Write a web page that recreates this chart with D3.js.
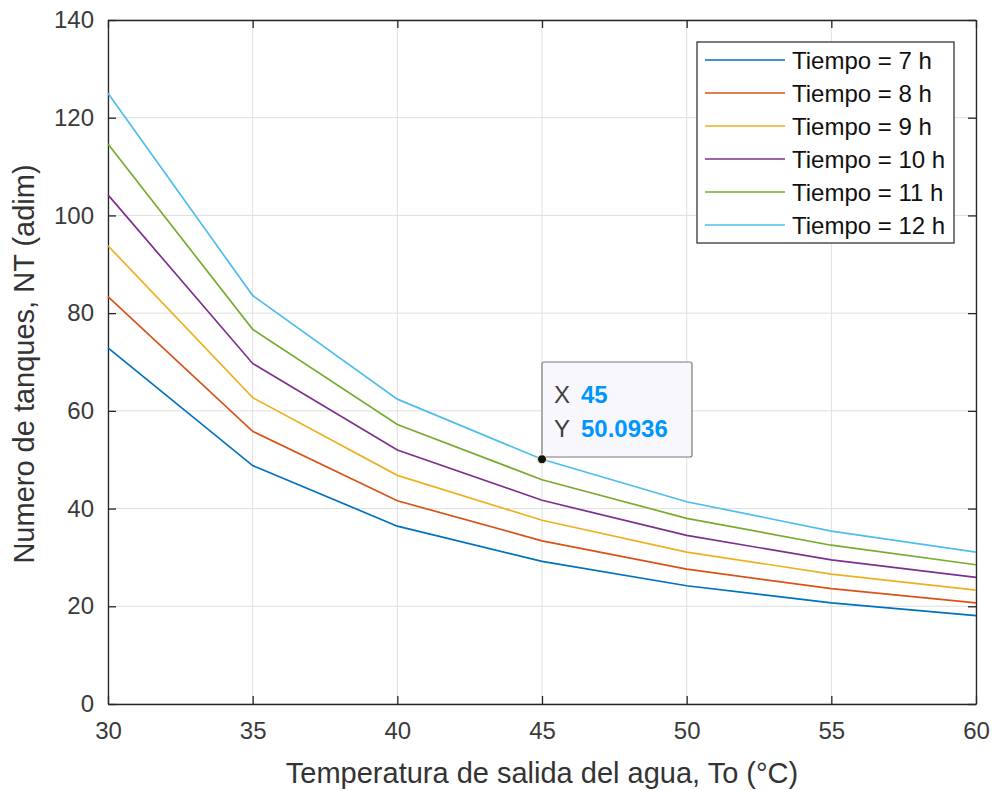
<!DOCTYPE html>
<html>
<head>
<meta charset="utf-8">
<script src="https://cdn.jsdelivr.net/npm/d3@7"></script>
<style>
  body { margin: 0; background: #fff; }
  text { font-family: "Liberation Sans", Arial, Helvetica, sans-serif; }
</style>
</head>
<body>
<svg></svg>
<script>
// datos
let temperaturas = [30, 35, 40, 45, 50, 55, 60];
let tiempos = ["Tiempo = 7 h", "Tiempo = 8 h", "Tiempo = 9 h", "Tiempo = 10 h", "Tiempo = 11 h", "Tiempo = 12 h"];
let nt7h  = [72.9, 48.8, 36.4, 29.2, 24.2, 20.7, 18.1];
let nt8h  = [83.4, 55.8, 41.6, 33.4, 27.6, 23.6, 20.7];
let nt9h  = [93.8, 62.7, 46.8, 37.6, 31.1, 26.6, 23.3];
let nt10h = [104.2, 69.7, 52.0, 41.7, 34.5, 29.5, 25.9];
let nt11h = [114.6, 76.7, 57.2, 45.9, 38.0, 32.5, 28.5];
let nt12h = [125.0, 83.6, 62.4, 50.0936, 41.4, 35.4, 31.1];
let xTicks = [30, 35, 40, 45, 50, 55, 60];
let yTicks = [0, 20, 40, 60, 80, 100, 120, 140];
let colores = ["#0072BD", "#D95319", "#EDB120", "#7E2F8E", "#77AC30", "#4DBEEE"];
let series = [nt7h, nt8h, nt9h, nt10h, nt11h, nt12h];

let svgWidth = 995;
let svgHeight = 791;
let margin = {left: 108, top: 20, right: 19, bottom: 87};

let svg = d3.select("svg")
  .attr("width", svgWidth)
  .attr("height", svgHeight);

let x = d3.scaleLinear().domain([30, 60]).range([margin.left, svgWidth - margin.right]);
let y = d3.scaleLinear().domain([0, 140]).range([svgHeight - margin.bottom, margin.top]);

// grid
svg.append("g").selectAll("line").data(xTicks).enter().append("line")
  .attr("x1", d => x(d)).attr("x2", d => x(d))
  .attr("y1", y(0)).attr("y2", y(140))
  .attr("stroke", "#dfdfdf").attr("stroke-width", 1);
svg.append("g").selectAll("line").data(yTicks).enter().append("line")
  .attr("x1", x(30)).attr("x2", x(60))
  .attr("y1", d => y(d)).attr("y2", d => y(d))
  .attr("stroke", "#dfdfdf").attr("stroke-width", 1);

// ejes (ticks hacia dentro, estilo matlab)
let ejeX = svg.append("g").attr("transform", "translate(0," + y(0) + ")")
  .call(d3.axisBottom(x).tickValues(xTicks).tickSizeInner(-8).tickSizeOuter(0).tickPadding(18));
let ejeXtop = svg.append("g").attr("transform", "translate(0," + y(140) + ")")
  .call(d3.axisTop(x).tickValues(xTicks).tickSizeInner(-8).tickSizeOuter(0).tickFormat(""));
let ejeY = svg.append("g").attr("transform", "translate(" + x(30) + ",0)")
  .call(d3.axisLeft(y).tickValues(yTicks).tickSizeInner(-8).tickSizeOuter(0).tickPadding(14));
let ejeYright = svg.append("g").attr("transform", "translate(" + x(60) + ",0)")
  .call(d3.axisRight(y).tickValues(yTicks).tickSizeInner(-8).tickSizeOuter(0).tickFormat(""));

[ejeX, ejeXtop, ejeY, ejeYright].forEach(function(g) {
  g.select(".domain").attr("stroke", "#262626").attr("stroke-width", 1.3);
  g.selectAll(".tick line").attr("stroke", "#262626").attr("stroke-width", 1.3);
  g.selectAll("text").attr("font-size", 24).attr("fill", "#3a3a3a")
    .attr("font-family", "'Liberation Sans', Arial, sans-serif");
});

// lineas
let linea = d3.line()
  .x((d, i) => x(temperaturas[i]))
  .y(d => y(d));

svg.append("g").selectAll("path").data(series).enter().append("path")
  .attr("d", d => linea(d))
  .attr("fill", "none")
  .attr("stroke", (d, i) => colores[i])
  .attr("stroke-width", 1.7);

// etiquetas de ejes
svg.append("text")
  .attr("x", (x(30) + x(60)) / 2).attr("y", 783)
  .attr("text-anchor", "middle")
  .attr("font-size", 29).attr("fill", "#333")
  .text("Temperatura de salida del agua, To (°C)");

svg.append("text")
  .attr("transform", "translate(34," + 364 + ") rotate(-90)")
  .attr("text-anchor", "middle")
  .attr("font-size", 29).attr("fill", "#333")
  .text("Numero de tanques, NT (adim)");

// leyenda
let leyenda = svg.append("g").attr("transform", "translate(697,42)");
leyenda.append("rect")
  .attr("width", 257).attr("height", 201)
  .attr("fill", "#fff").attr("stroke", "#262626").attr("stroke-width", 1.2);
let filas = leyenda.selectAll("g.fila").data(tiempos).enter().append("g")
  .attr("class", "fila")
  .attr("transform", (d, i) => "translate(0," + (18 + i * 33) + ")");
filas.append("line")
  .attr("x1", 8).attr("x2", 88)
  .attr("stroke", (d, i) => colores[i]).attr("stroke-width", 1.7);
filas.append("text")
  .attr("x", 95).attr("y", 9)
  .attr("font-size", 24).attr("fill", "#111")
  .text(d => d);

// cuadro de dato (datatip)
let px = x(temperaturas[3]), py = y(nt12h[3]);
svg.append("rect")
  .attr("x", px).attr("y", 362).attr("width", 150).attr("height", 95).attr("rx", 2)
  .attr("fill", "#f8f8fc").attr("stroke", "#7a7a7a").attr("stroke-width", 1.2);
svg.append("circle")
  .attr("cx", px).attr("cy", py).attr("r", 4.5)
  .attr("fill", "#111").attr("stroke", "#f3f0c8").attr("stroke-width", 1);

let tip = svg.append("g").attr("font-size", 24);
tip.append("text").attr("x", px + 12).attr("y", 403).attr("fill", "#404040").text("X");
tip.append("text").attr("x", px + 39).attr("y", 403).attr("fill", "#0096ff").attr("font-weight", "bold").text(temperaturas[3]);
tip.append("text").attr("x", px + 12).attr("y", 437).attr("fill", "#404040").text("Y");
tip.append("text").attr("x", px + 39).attr("y", 437).attr("fill", "#0096ff").attr("font-weight", "bold").text(nt12h[3]);
</script>
</body>
</html>
